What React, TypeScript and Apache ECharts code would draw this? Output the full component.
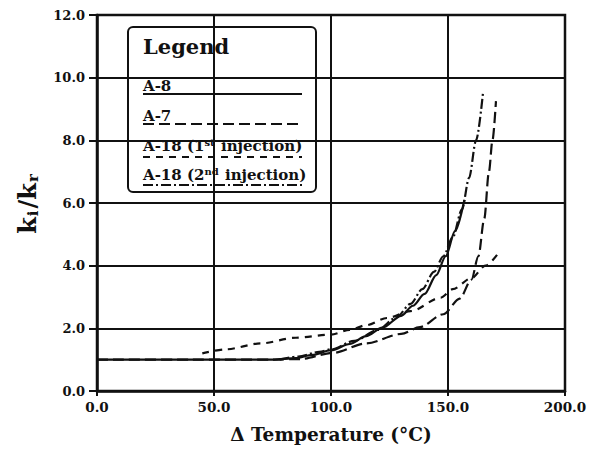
import React, { useEffect, useRef } from "react";
import * as echarts from "echarts";

// Temperature rise (°C) and permeability ratio ki/kr for each run
const a8Temp = [0, 40, 75, 85, 92, 100, 108, 115, 122, 130, 135, 140, 145, 149, 153, 157];
const a8Ratio = [1.0, 1.0, 1.0, 1.05, 1.15, 1.3, 1.5, 1.75, 2.02, 2.4, 2.72, 3.1, 3.7, 4.3, 5.1, 6.1];

const a7Temp = [0, 40, 75, 87, 101, 115, 130, 138, 148, 155, 160, 163, 165.5, 167.5, 169, 170.5];
const a7Ratio = [1.0, 1.0, 1.0, 1.02, 1.22, 1.52, 1.82, 2.04, 2.45, 2.95, 3.55, 4.3, 5.5, 7.0, 8.0, 9.25];

const a18FirstTemp = [45, 55, 70, 85, 100, 108, 115, 124, 134, 147, 152, 160, 166, 172];
const a18FirstRatio = [1.2, 1.33, 1.52, 1.7, 1.8, 1.95, 2.1, 2.33, 2.55, 2.98, 3.25, 3.6, 4.0, 4.45];

const a18SecondTemp = [78, 86, 95, 100, 110, 120, 128, 134, 139, 144, 148, 152, 156, 159, 162, 165];
const a18SecondRatio = [1.0, 1.1, 1.25, 1.33, 1.6, 1.95, 2.35, 2.78, 3.25, 3.8, 4.3, 4.9, 5.8, 6.8, 8.0, 9.55];

const xTicks = { min: 0, max: 200, interval: 50 };
const yTicks = { min: 0, max: 12, interval: 2 };

const legendNames = ["A-8", "A-7", "A-18 (1st injection)", "A-18 (2nd injection)"];

const FONT = "'DejaVu Serif', 'Liberation Serif', serif";
const INK = "#111";

const zip = (xs: number[], ys: number[]) => xs.map((x, i) => [x, ys[i]]);

export default function App() {
  const ref = useRef<HTMLDivElement>(null);

  useEffect(() => {
    if (!ref.current) return;
    const chart = echarts.init(ref.current, undefined, { renderer: "svg" });

    const lineSeries = (name: string, data: number[][], type: any) => ({
      name,
      type: "line",
      data,
      smooth: 0.3,
      smoothMonotone: "x",
      showSymbol: false,
      symbol: "none",
      lineStyle: { color: INK, width: 2.2, type },
      z: 3,
    });

    // legend entry label, drawn with its bottom edge at y
    const legendText = (y: number, text: string) => ({
      type: "text",
      style: {
        x: 143,
        y,
        verticalAlign: "bottom",
        text,
        font: `bold 15px ${FONT}`,
        fill: INK,
        rich: {
          n: { font: `bold 15px ${FONT}`, fill: INK },
          sup: { font: `bold 10px ${FONT}`, fill: INK, padding: [0, 1, 8, 0] },
        },
      },
    });

    const legendLine = (y: number, dash: any) => ({
      type: "line",
      shape: { x1: 143, y1: y, x2: 302, y2: y },
      style: { stroke: INK, lineWidth: 2, lineDash: dash },
    });

    chart.setOption({
      animation: false,
      backgroundColor: "#fff",
      grid: {
        left: 97,
        right: 29,
        top: 15,
        bottom: 57,
        show: true,
        borderColor: INK,
        borderWidth: 2.5,
      },
      xAxis: {
        type: "value",
        ...xTicks,
        name: "Δ Temperature (°C)",
        nameLocation: "middle",
        nameGap: 34,
        nameTextStyle: { fontFamily: FONT, fontWeight: "bold", fontSize: 18.5, color: INK },
        axisLine: { show: true, lineStyle: { color: INK, width: 2.5 } },
        axisTick: { show: true, length: 5, lineStyle: { color: INK, width: 2 } },
        axisLabel: {
          margin: 9,
          fontFamily: FONT,
          fontWeight: "bold",
          fontSize: 13.5,
          color: INK,
          formatter: (v: number) => v.toFixed(1),
        },
        splitLine: { show: true, lineStyle: { color: INK, width: 2 } },
      },
      yAxis: {
        type: "value",
        ...yTicks,
        name: "{k|k}{s|i}{k|/k}{s|r}",
        nameLocation: "middle",
        nameRotate: 90,
        nameGap: 57,
        nameTextStyle: {
          fontFamily: FONT,
          fontWeight: "bold",
          color: INK,
          rich: {
            k: { fontFamily: FONT, fontWeight: "bold", fontSize: 24, color: INK },
            s: {
              fontFamily: FONT,
              fontWeight: "bold",
              fontSize: 15,
              color: INK,
              verticalAlign: "bottom",
              padding: [10, 2, 0, 1],
            },
          },
        },
        axisLine: { show: true, lineStyle: { color: INK, width: 2.5 } },
        axisTick: { show: true, length: 8, lineStyle: { color: INK, width: 2 } },
        axisLabel: {
          margin: 12,
          fontFamily: FONT,
          fontWeight: "bold",
          fontSize: 13,
          color: INK,
          formatter: (v: number) => v.toFixed(1),
        },
        splitLine: { show: true, lineStyle: { color: INK, width: 2 } },
      },
      series: [
        lineSeries(legendNames[0], zip(a8Temp, a8Ratio), "solid"),
        lineSeries(legendNames[1], zip(a7Temp, a7Ratio), [11, 5]),
        lineSeries(legendNames[2], zip(a18FirstTemp, a18FirstRatio), [7, 6]),
        lineSeries(legendNames[3], zip(a18SecondTemp, a18SecondRatio), [10, 3, 2, 3]),
      ],
      graphic: [
        {
          type: "group",
          z: 100,
          children: [
            {
              type: "rect",
              shape: { x: 128, y: 27, width: 188, height: 165, r: 5 },
              style: { fill: "#fff", stroke: INK, lineWidth: 2 },
            },
            {
              type: "text",
              style: { x: 143, y: 36, text: "Legend", font: `bold 21px ${FONT}`, fill: INK },
            },
            legendText(93, "{n|A-8}"),
            legendLine(94, null),
            legendText(123, "{n|A-7}"),
            legendLine(124, [11, 5]),
            legendText(155, "{n|A-18 (1}{sup|st}{n| injection)}"),
            legendLine(157, [7, 6]),
            legendText(184, "{n|A-18 (2}{sup|nd}{n| injection)}"),
            legendLine(185, [10, 3, 2, 3]),
          ],
        },
      ],
    });

    return () => chart.dispose();
  }, []);

  return (
    <div
      ref={ref}
      style={{ position: "fixed", left: 0, top: 0, width: 594, height: 449 }}
    />
  );
}
